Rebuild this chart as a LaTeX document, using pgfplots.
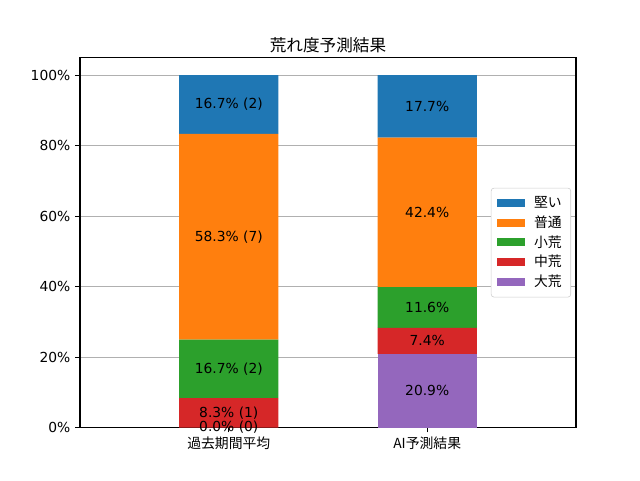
\documentclass[border=0pt]{standalone}
\usepackage{pgfplots}
\pgfplotsset{compat=1.18}
\usepackage{fontspec}
\setmainfont{DejaVu Sans}
\newfontfamily\jp{Noto Sans CJK JP}
\definecolor{c0}{HTML}{1F77B4}
\definecolor{c1}{HTML}{FF7F0E}
\definecolor{c2}{HTML}{2CA02C}
\definecolor{c3}{HTML}{D62728}
\definecolor{c4}{HTML}{9467BD}
\begin{document}
\fontsize{10}{12}\selectfont
\begin{tikzpicture}
\pgfplotsset{
  common/.style={
    scale only axis, width=4.96in, height=3.7in,
    xmin=-0.75, xmax=1.75, ymin=0, ymax=105,
  }
}
\begin{axis}[common,
  ybar stacked, bar width=0.5,
  axis line style={line width=0.8pt},
  xtick={0,1}, xticklabels={{\jp 過去期間平均},{\jp AI予測結果}},
  ytick={0,20,40,60,80,100},
  yticklabels={0\%,20\%,40\%,60\%,80\%,100\%},
  tick align=outside, tick pos=left,
  major tick length=3.5pt,
  every tick/.style={black, line width=0.8pt},
  ymajorgrids, grid style={color=black!31, line width=0.8pt},
  tick label style={font=\fontsize{10}{12}\selectfont},
  title={\jp 荒れ度予測結果},
  title style={font=\fontsize{12}{14}\selectfont, yshift=-6pt},
  reverse legend,
  legend style={at={(0.99,0.5)}, anchor=east, draw=black!20, rounded corners=2pt,
    fill=white, font=\fontsize{10}{12}\selectfont\jp, row sep=0.4pt,
    inner xsep=4.5pt, inner ysep=4pt,
    /tikz/every odd column/.append style={column sep=4.5pt}},
  legend cell align=left,
  legend image code/.code={\fill[#1, sharp corners] (0pt,-2.9pt) rectangle (20pt,2.9pt);},
]
\addplot[fill=c4, draw=none] coordinates {(0,0) (1,20.9)};
\addplot[fill=c3, draw=none] coordinates {(0,8.333) (1,7.4)};
\addplot[fill=c2, draw=none] coordinates {(0,16.667) (1,11.6)};
\addplot[fill=c1, draw=none] coordinates {(0,58.333) (1,42.4)};
\addplot[fill=c0, draw=none] coordinates {(0,16.667) (1,17.7)};
\legend{大荒,中荒,小荒,普通,堅い}
\end{axis}
\begin{axis}[common, hide axis, clip=false,
  every node near coord/.append style={anchor=center, font=\fontsize{10}{12}\selectfont, text=black},
  nodes near coords align={center}]
\addplot[draw=none, mark=none, nodes near coords, point meta=explicit symbolic]
  coordinates {
  (0,0) [0.0\% (0)]
  (0,4.167) [8.3\% (1)]
  (0,16.667) [16.7\% (2)]
  (0,54.167) [58.3\% (7)]
  (0,91.667) [16.7\% (2)]
  (1,10.45) [20.9\%]
  (1,24.6) [7.4\%]
  (1,34.1) [11.6\%]
  (1,61.1) [42.4\%]
  (1,91.15) [17.7\%]
  };
\end{axis}
\path ([xshift=-0.8in,yshift=-0.528in]current axis.south west) rectangle ([xshift=0.64in,yshift=0.576in]current axis.north east);
\end{tikzpicture}
\end{document}
